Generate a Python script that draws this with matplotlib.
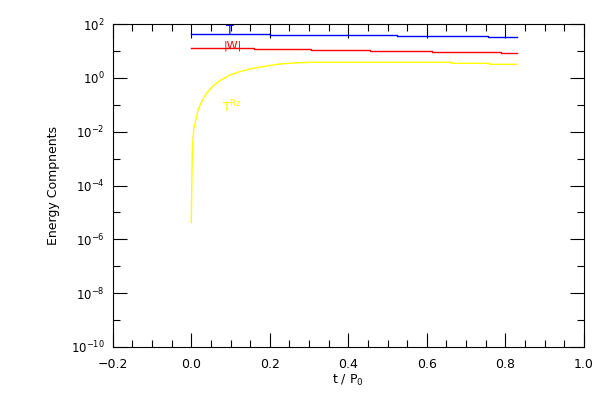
import matplotlib
matplotlib.use("Agg")
import matplotlib.pyplot as plt
import numpy as np
from matplotlib.ticker import MultipleLocator, FixedLocator, NullFormatter

# Kinetic energy T (blue, step series)
t_T = [0.0, 0.2, 0.2, 0.523, 0.523, 0.756, 0.756, 0.83]
E_T = [41.4, 41.4, 38.0, 38.0, 34.9, 34.9, 32.0, 32.0]

# |W| (red, step series)
t_W = [0.0, 0.159, 0.159, 0.306, 0.306, 0.455, 0.455, 0.612, 0.612, 0.788, 0.788, 0.83]
E_W = [12.5, 12.5, 11.5, 11.5, 10.5, 10.5, 9.7, 9.7, 8.9, 8.9, 8.2, 8.2]

# T^Rz (yellow)
t_R = [0.0, 0.002, 0.003, 0.0064, 0.0115, 0.0173, 0.026, 0.039, 0.0556, 0.0726,
       0.098, 0.124, 0.157, 0.192, 0.2255, 0.2594, 0.302, 0.663, 0.663, 0.76, 0.76, 0.83]
E_R = [4.2e-6, 5.7e-4, 3e-3, 1.33e-2, 2.7e-2, 6.5e-2, 0.13, 0.27, 0.5, 0.78,
       1.27, 1.7, 2.26, 2.75, 3.27, 3.55, 3.78, 3.78, 3.47, 3.47, 3.18, 3.18]

xticks = [-0.2, 0.0, 0.2, 0.4, 0.6, 0.8, 1.0]
xticklabels = ["\u22120.2", "0.0", "0.2", "0.4", "0.6", "0.8", "1.0"]
yticks = [1e2, 1e0, 1e-2, 1e-4, 1e-6, 1e-8, 1e-10]
yticklabels = [r"10$^{2}$", r"10$^{0}$", r"10$^{-2}$", r"10$^{-4}$", r"10$^{-6}$", r"10$^{-8}$", r"10$^{-10}$"]

plt.rcParams['font.family'] = ['DejaVu Sans']
plt.rcParams['mathtext.default'] = 'regular'

fig = plt.figure(figsize=(6, 4), dpi=100)
ax = fig.add_axes([0.188, 0.1325, 0.785, 0.8075])

ax.plot(t_T, E_T, color="blue", lw=1)
ax.plot(t_W, E_W, color="red", lw=1)
ax.plot(t_R, E_R, color="yellow", lw=1)

ax.set_yscale("log")
ax.set_xlim(-0.2, 1.0)
ax.set_ylim(1e-10, 1e2)

ax.xaxis.set_major_locator(FixedLocator(xticks))
ax.set_xticklabels(xticklabels, fontsize=9)
ax.xaxis.set_minor_locator(MultipleLocator(0.05))
ax.yaxis.set_major_locator(FixedLocator(yticks))
ax.set_yticklabels(yticklabels, fontsize=8.5)
ax.yaxis.set_minor_locator(FixedLocator([1e1, 1e-1, 1e-3, 1e-5, 1e-7, 1e-9]))
ax.yaxis.set_minor_formatter(NullFormatter())

ax.tick_params(which="major", direction="in", length=10, top=True, right=True, width=0.8)
ax.tick_params(which="minor", direction="in", length=5, top=True, right=True, width=0.8)
ax.tick_params(axis="x", which="major", pad=8)
ax.tick_params(axis="y", which="major", pad=6)

ax.set_xlabel(r"t / P$_0$", fontsize=9, labelpad=1)
ax.set_ylabel("Energy Compnents", fontsize=9, labelpad=8)

ax.text(0.098, 56, "T", color="blue", fontsize=9, ha="center", va="center")
ax.text(0.105, 15.5, "|W|", color="red", fontsize=8, ha="center", va="center")
ax.text(0.105, 0.08, r"T$^{Rz}$", color="yellow", fontsize=9, ha="center", va="center")

fig.savefig("out.png", dpi=100)
